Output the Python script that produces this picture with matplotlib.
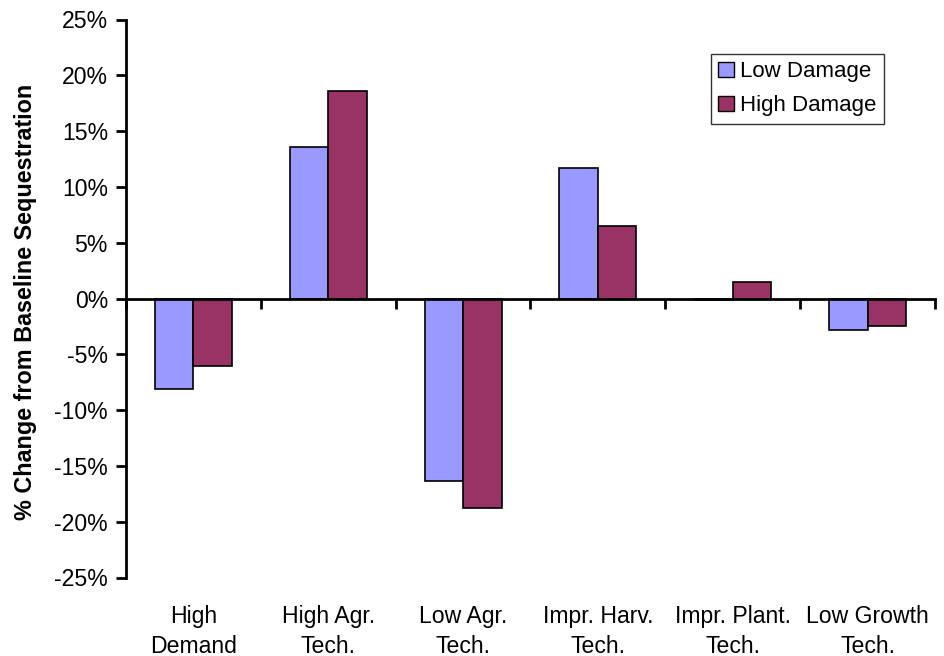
import matplotlib
matplotlib.use("Agg")
import matplotlib.pyplot as plt
import numpy as np
from matplotlib.patches import Patch
from matplotlib.ticker import FixedLocator, FuncFormatter

plt.rcParams['font.family'] = ['Liberation Sans', 'DejaVu Sans']

categories = ["High\nDemand", "High Agr.\nTech.", "Low Agr.\nTech.",
              "Impr. Harv.\nTech.", "Impr. Plant.\nTech.", "Low Growth\nTech."]
low_damage = [-8.15, 13.6, -16.35, 11.65, -0.15, -2.8]
high_damage = [-6.05, 18.55, -18.8, 6.5, 1.5, -2.5]
series_names = ["Low Damage", "High Damage"]
y_ticks = [-25, -20, -15, -10, -5, 0, 5, 10, 15, 20, 25]

low_color = "#9999FF"
high_color = "#993366"

fig = plt.figure(figsize=(9.44, 6.56), dpi=100)
ax = fig.add_axes([126 / 944, 1 - 577.5 / 656, (935 - 126) / 944, (577.5 - 19.5) / 656])

x = np.arange(len(categories))
w = 0.285
ax.bar(x - w / 2, low_damage, width=w, color=low_color, edgecolor="black", linewidth=1.2)
ax.bar(x + w / 2, high_damage, width=w, color=high_color, edgecolor="black", linewidth=1.2)

ax.set_xlim(-0.5, len(categories) - 0.5)
ax.set_ylim(-25, 25)

ax.spines['top'].set_visible(False)
ax.spines['right'].set_visible(False)
ax.spines['bottom'].set_position(('data', 0))
ax.spines['bottom'].set_linewidth(2)
ax.spines['left'].set_linewidth(2)

ax.yaxis.set_major_locator(FixedLocator(y_ticks))
ax.yaxis.set_major_formatter(FuncFormatter(lambda v, p: f"{v:.0f}%"))
ax.tick_params(axis='y', direction='out', length=7, width=2, labelsize=16.6, pad=6)

# category boundaries carry the ticks on the zero line
ax.set_xticks(np.arange(len(categories) + 1) - 0.5)
ax.set_xticklabels([])
ax.tick_params(axis='x', direction='out', length=7, width=2)

for i, label in enumerate(categories):
    ax.text(i, -0.049, label, transform=ax.get_xaxis_transform(),
            ha='center', va='top', fontsize=16.6, linespacing=1.38)

ax.set_ylabel("% Change from Baseline Sequestration", fontsize=16.8,
              fontweight='bold')
ax.yaxis.set_label_coords(-0.110, 0.494)

handles = [Patch(facecolor=low_color, edgecolor="black"),
           Patch(facecolor=high_color, edgecolor="black")]
leg = ax.legend(handles, series_names, loc='upper left',
                bbox_to_anchor=((711 - 126) / 809, 1 - (54 - 19.5) / 558),
                fontsize=16, frameon=True, fancybox=False,
                edgecolor="black", handlelength=0.7, handleheight=0.7,
                handletextpad=0.3, borderpad=0.32, labelspacing=0.6,
                borderaxespad=0)
leg.get_frame().set_linewidth(1)

fig.savefig("out.png", dpi=100)
